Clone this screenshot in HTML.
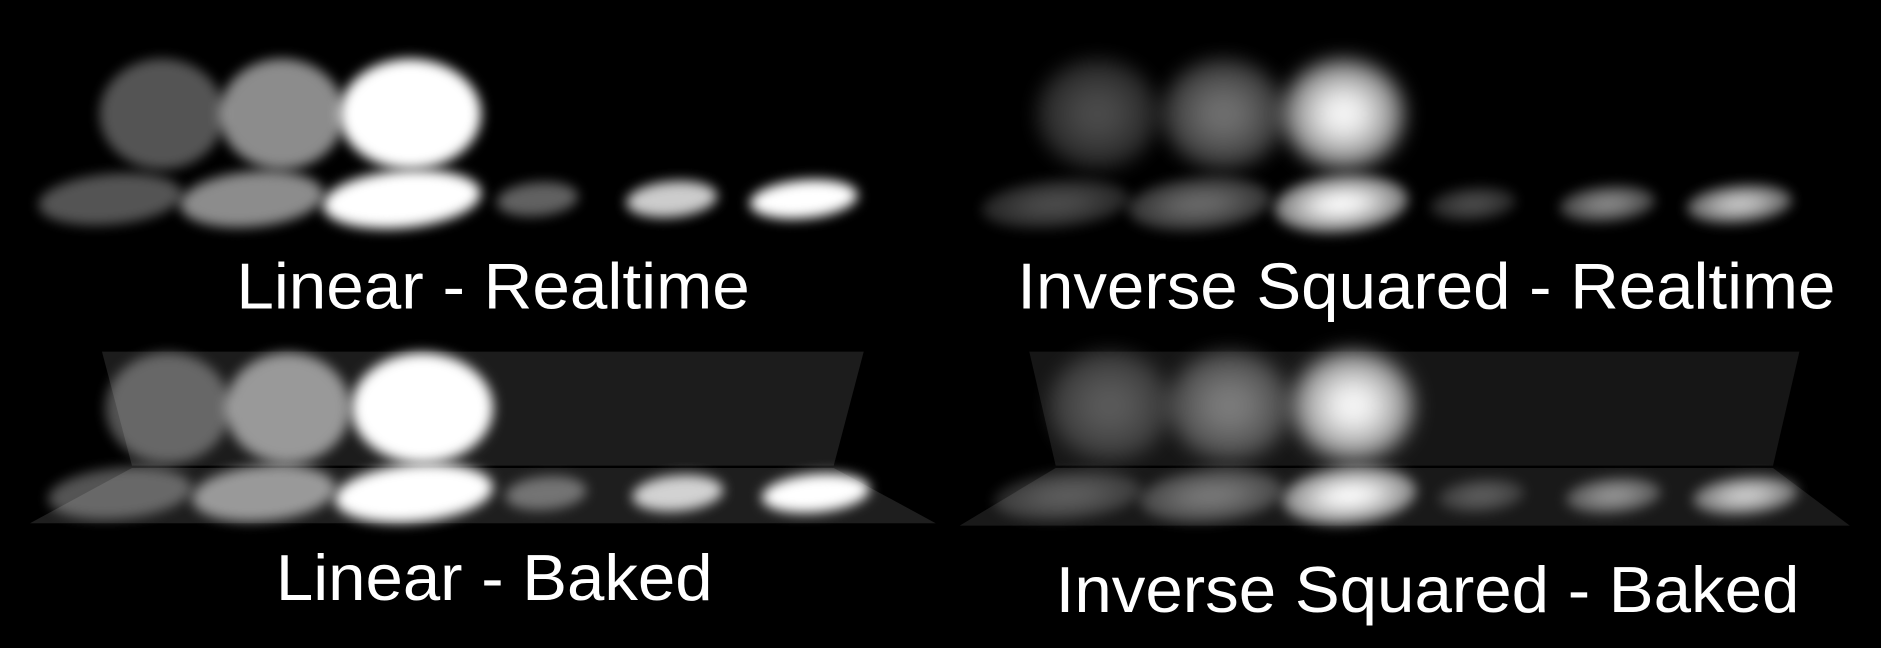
<!DOCTYPE html>
<html><head><meta charset="utf-8"><style>
html,body{margin:0;padding:0;background:#000;overflow:hidden}
svg{display:block}
</style></head><body>
<svg id="c" width="1881" height="648" viewBox="0 0 1568 540" preserveAspectRatio="none" xmlns="http://www.w3.org/2000/svg">
<defs>
<filter id="b5" x="-50%" y="-50%" width="200%" height="200%"><feGaussianBlur stdDeviation="5"/></filter>
<filter id="b8" x="-50%" y="-50%" width="200%" height="200%"><feGaussianBlur stdDeviation="8"/></filter>
<radialGradient id="inv"><stop offset="0" stop-color="#fff" stop-opacity="1"/><stop offset="0.35" stop-color="#fff" stop-opacity="0.9"/><stop offset="1" stop-color="#fff" stop-opacity="0.45"/></radialGradient>
</defs>
<g>
<polygon points="85,293 720,293 695,388 110,388" fill="#1c1c1c"/>
<polygon points="110,390 695,390 780,436 25,436" fill="#1e1e1e"/>
<polygon points="858,293 1500,293 1478,388 880,388" fill="#161616"/>
<polygon points="880,390 1478,390 1542,438 800,438" fill="#191919"/>
</g>
<g id="marks"></g>
<g fill="#fff" font-family="Liberation Sans, sans-serif" font-size="54">
<text x="197" y="257" textLength="428" lengthAdjust="spacingAndGlyphs">Linear - Realtime</text>
<text x="848" y="257" textLength="682" lengthAdjust="spacingAndGlyphs">Inverse Squared - Realtime</text>
<text x="230" y="500" textLength="364" lengthAdjust="spacingAndGlyphs">Linear - Baked</text>
<text x="880" y="510" textLength="620" lengthAdjust="spacingAndGlyphs">Inverse Squared - Baked</text>
</g>
</svg>
<script>
// light intensities per panel (wall spots, floor spots)
const wallLinRT = [0.33, 0.55, 1.0];
const floorLinRT = [0.33, 0.55, 1.0, 0.38, 0.8, 1.0];
const wallInvRT = [0.3, 0.45, 1.0];
const floorInvRT = [0.3, 0.42, 1.0, 0.3, 0.55, 0.8];
const wallLinBk = [0.33, 0.55, 1.0];
const floorLinBk = [0.33, 0.55, 1.0, 0.38, 0.8, 1.0];
const wallInvBk = [0.3, 0.45, 1.0];
const floorInvBk = [0.3, 0.42, 1.0, 0.3, 0.55, 0.8];

const NS = 'http://www.w3.org/2000/svg';
const g = document.getElementById('marks');
const panels = [
 {name:'linear-realtime', wall:wallLinRT, floor:floorLinRT, wx:[135,235,342], wy:95, wr:[55,55,62], wry:48, fx:[92,210,335,448,560,670], fy:166, frx:[62,62,68,36,40,47], fry:[22,24,25,15,16,17], inv:false},
 {name:'inverse-realtime', wall:wallInvRT, floor:floorInvRT, wx:[915,1020,1120], wy:95, wr:[54,54,54], wry:48, fx:[880,1000,1118,1228,1340,1450], fy:170, frx:[64,62,58,38,42,46], fry:[21,23,25,15,16,17], inv:true},
 {name:'linear-baked', wall:wallLinBk, floor:floorLinBk, wx:[140,240,352], wy:340, wr:[55,55,62], wry:48, fx:[100,220,345,455,565,680], fy:411, frx:[62,62,68,36,40,47], fry:[22,24,25,15,16,17], inv:false},
 {name:'inverse-baked', wall:wallInvBk, floor:floorInvBk, wx:[925,1025,1128], wy:338, wr:[54,54,54], wry:48, fx:[890,1010,1125,1235,1345,1455], fy:413, frx:[64,62,58,38,42,46], fry:[21,23,25,15,16,17], inv:true}
];
panels.forEach(p=>{
 p.wall.forEach((v,i)=>{
  const e=document.createElementNS(NS,'ellipse');
  
  
  e.setAttribute('cx',p.wx[i]);e.setAttribute('cy',p.wy);
  e.setAttribute('rx',p.wr[i]-3);e.setAttribute('ry',p.wry-2);
  e.setAttribute('fill', p.inv ? 'url(#inv)' : '#fff');
  e.setAttribute('opacity', v);
  e.setAttribute('filter', p.inv?'url(#b8)':'url(#b5)');
  g.appendChild(e);
 });
 p.floor.forEach((v,i)=>{
  const e=document.createElementNS(NS,'ellipse');
  
  
  e.setAttribute('cx',p.fx[i]);e.setAttribute('cy',p.fy);
  e.setAttribute('rx',p.frx[i]-2);e.setAttribute('ry',p.fry[i]-1);
  e.setAttribute('fill', p.inv ? 'url(#inv)' : '#fff');
  e.setAttribute('opacity', v);
  e.setAttribute('transform','rotate(-5 '+p.fx[i]+' '+p.fy+')');
  e.setAttribute('filter','url(#b5)');
  g.appendChild(e);
 });
});
</script>
</body></html>
